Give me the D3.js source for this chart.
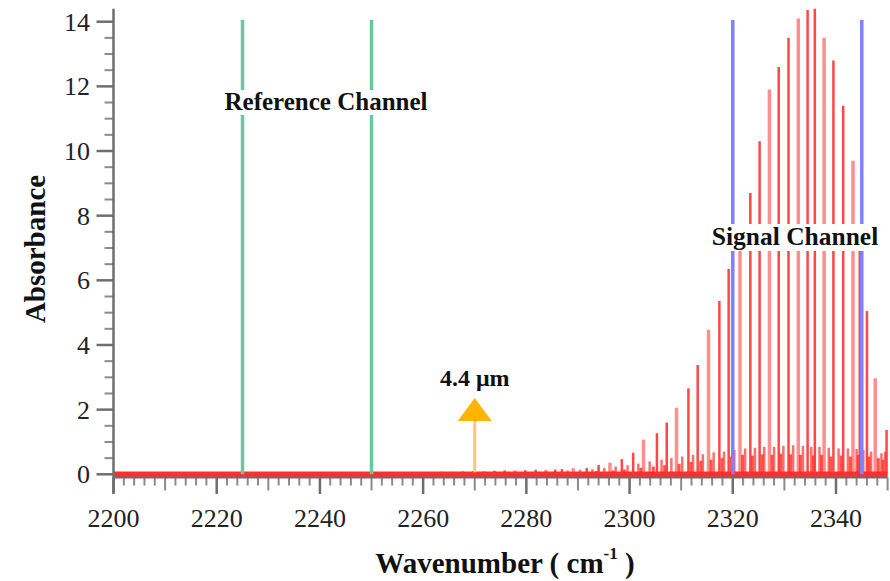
<!DOCTYPE html>
<html>
<head>
<meta charset="utf-8">
<script src="https://cdn.jsdelivr.net/npm/d3@7"></script>
<style>
  html, body { margin: 0; padding: 0; background: #fff; }
  svg { display: block; }
  text { font-family: "Liberation Serif", "Times New Roman", serif; }
</style>
</head>
<body>
<svg id="chart" width="890" height="581"></svg>
<script>
// ---------- data ----------
const xTickValues = [2200, 2220, 2240, 2260, 2280, 2300, 2320, 2340];
const yTickValues = [0, 2, 4, 6, 8, 10, 12, 14];

// strong absorption lines (wavenumber, absorbance)
const mainWn  = [2251.0, 2253.1, 2255.2, 2257.3, 2259.4, 2261.5, 2263.6, 2265.6, 2267.7, 2269.7,
                 2271.8, 2273.8, 2275.8, 2277.8, 2279.8, 2281.8, 2283.8, 2285.6,
                 2286.9, 2289.1, 2291.7, 2294.0, 2296.2, 2298.5, 2300.7, 2302.7, 2305.3, 2307.2,
                 2309.1, 2311.4, 2313.2, 2315.3, 2317.4, 2319.2, 2321.4, 2323.4, 2325.2, 2327.1,
                 2328.9, 2330.8, 2332.7, 2334.5, 2335.9, 2337.7, 2339.5, 2341.4, 2343.3, 2344.6,
                 2346.0, 2347.6, 2349.8];
const mainAbs = [0.04, 0.05, 0.05, 0.06, 0.06, 0.07, 0.08, 0.08, 0.09, 0.10,
                 0.10, 0.11, 0.12, 0.12, 0.13, 0.14, 0.14, 0.15,
                 0.16, 0.19, 0.19, 0.29, 0.36, 0.47, 0.67, 1.07, 1.27, 1.60,
                 2.06, 2.66, 3.38, 4.47, 5.36, 6.35, 7.30, 8.70, 10.3, 11.9,
                 12.6, 13.5, 14.1, 14.36, 14.4, 13.5, 12.8, 11.4, 9.7, 7.1,
                 5.05, 2.97, 1.37];

// weak (hot band) lines
const weakWn  = [2288.0, 2290.4, 2292.8, 2295.1, 2297.3, 2299.6, 2301.7, 2303.9, 2306.2, 2308.1,
                 2310.2, 2312.3, 2314.2, 2316.3, 2318.3, 2320.3, 2322.4, 2324.3, 2326.1, 2328.0,
                 2329.8, 2331.7, 2333.6, 2335.2, 2336.8, 2338.6, 2340.5, 2342.3, 2344.0, 2345.3,
                 2346.8, 2348.8, 2349.5];
const weakAbs = [0.12, 0.14, 0.16, 0.20, 0.24, 0.28, 0.33, 0.40, 0.45, 0.50,
                 0.55, 0.60, 0.62, 0.68, 0.70, 0.75, 0.80, 0.82, 0.85, 0.85,
                 0.88, 0.90, 0.88, 0.85, 0.85, 0.82, 0.80, 0.80, 0.78, 0.75,
                 0.70, 0.65, 0.70];

// weaker lines filling the base of the band
const weak2Wn  = [2293.6, 2296.8, 2299.0, 2302.2, 2304.6, 2306.8, 2309.6, 2311.9, 2313.8, 2315.8,
                  2317.9, 2319.7, 2321.9, 2323.8, 2325.7, 2327.6, 2329.3, 2331.2, 2333.1, 2335.6,
                  2337.2, 2339.0, 2341.0, 2342.8, 2344.3, 2346.4, 2348.2, 2349.1];
const weak2Abs = [0.10, 0.12, 0.15, 0.20, 0.24, 0.28, 0.32, 0.38, 0.42, 0.45,
                  0.50, 0.55, 0.60, 0.58, 0.62, 0.60, 0.64, 0.62, 0.60, 0.58,
                  0.60, 0.55, 0.58, 0.55, 0.60, 0.55, 0.50, 0.45];

const refChannel = [2225, 2250];
const sigChannel = [2320, 2345];
const markerWn = 2270;
const markerLabel = "4.4 μm";

// ---------- scales ----------
const FONT = "Liberation Serif, Times New Roman, serif";
const svg = d3.select("#chart");
const x = d3.scaleLinear().domain([2200, 2350]).range([113.5, 887.6]);
const y = d3.scaleLinear().domain([0, 14]).range([474.3, 21.7]);
const yTop = y(14.4);
const axisColor = "#6e6e6e";
const axisY = 477.5;

// ---------- spectrum ----------
const spec = svg.append("g");
spec.append("line")
  .attr("x1", x(2200)).attr("x2", x(2350))
  .attr("y1", y(0)).attr("y2", y(0))
  .attr("stroke", "#ff2f2f").attr("stroke-width", 5.5);

spec.selectAll(".weak2").data(weak2Wn.map((w, i) => [w, weak2Abs[i]]))
  .join("line")
  .attr("x1", d => x(d[0])).attr("x2", d => x(d[0]))
  .attr("y1", y(0)).attr("y2", d => y(d[1]))
  .attr("stroke", "#ff2a1a").attr("stroke-opacity", 0.8).attr("stroke-width", 3);

spec.selectAll(".weak").data(weakWn.map((w, i) => [w, weakAbs[i]]))
  .join("line")
  .attr("x1", d => x(d[0])).attr("x2", d => x(d[0]))
  .attr("y1", y(0)).attr("y2", d => y(d[1]))
  .attr("stroke", "#ff3030").attr("stroke-opacity", 0.7).attr("stroke-width", 2.5);

spec.selectAll(".main").data(mainWn.map((w, i) => [w, mainAbs[i]]))
  .join("line")
  .attr("x1", d => x(d[0])).attr("x2", d => x(d[0]))
  .attr("y1", y(0)).attr("y2", d => y(d[1]))
  .attr("stroke", "#ff3333")
  .attr("stroke-opacity", (d, i) => (i % 3 === 1 ? 0.55 : 0.9))
  .attr("stroke-width", (d, i) => (i % 3 === 1 ? 3.5 : 2.5));

// ---------- channel lines ----------
function channel(vals, color, label, labelY, cx, size) {
  const g = svg.append("g");
  g.selectAll("line").data(vals).join("line")
    .attr("x1", d => x(d)).attr("x2", d => x(d))
    .attr("y1", y(0)).attr("y2", y(14.05))
    .attr("stroke", color).attr("stroke-width", 3.5);
  const t = g.append("text")
    .attr("x", cx).attr("y", labelY)
    .attr("text-anchor", "middle")
    .attr("font-family", FONT)
    .attr("font-weight", "bold").attr("font-size", size)
    .attr("fill", "#111")
    .text(label);
  const bb = t.node().getBBox();
  g.insert("rect", "text")
    .attr("x", bb.x - 3).attr("y", bb.y + 2)
    .attr("width", bb.width + 6).attr("height", bb.height - 2)
    .attr("fill", "#fff");
}
channel(refChannel, "#68c89c", "Reference Channel", 110, 326, 25);
channel(sigChannel, "#8080ff", "Signal Channel", 245, 795, 25.5);

// ---------- 4.4 µm marker ----------
const mx = x(markerWn);
svg.append("line")
  .attr("x1", mx).attr("x2", mx)
  .attr("y1", y(0) - 2).attr("y2", 420)
  .attr("stroke", "#ffc86a").attr("stroke-width", 3);
svg.append("path")
  .attr("d", `M${mx},398 L${mx + 17},421 L${mx - 17},421 Z`)
  .attr("fill", "#ffb400");
svg.append("text")
  .attr("x", mx).attr("y", 386)
  .attr("text-anchor", "middle")
  .attr("font-family", FONT)
  .attr("font-weight", "bold").attr("font-size", 24)
  .attr("fill", "#111")
  .text(markerLabel);

// ---------- axes ----------
const yAxisG = svg.append("g");
yAxisG.append("line")
  .attr("x1", x(2200)).attr("x2", x(2200))
  .attr("y1", yTop).attr("y2", 493)
  .attr("stroke", axisColor).attr("stroke-width", 2.5);
const yMinor = d3.range(0, 14.01, 0.5).filter(v => v % 2 !== 0);
yAxisG.selectAll(".ymin").data(yMinor).join("line")
  .attr("x1", x(2200) - 9).attr("x2", x(2200))
  .attr("y1", d => y(d)).attr("y2", d => y(d))
  .attr("stroke", axisColor).attr("stroke-opacity", 0.8).attr("stroke-width", 2);
yAxisG.selectAll(".ymaj").data(yTickValues).join("line")
  .attr("x1", x(2200) - 17).attr("x2", x(2200))
  .attr("y1", d => y(d)).attr("y2", d => y(d))
  .attr("stroke", axisColor).attr("stroke-width", 2.5);
yAxisG.selectAll(".ylab").data(yTickValues).join("text")
  .attr("x", 90).attr("y", d => y(d))
  .attr("dy", "0.35em")
  .attr("text-anchor", "end")
  .attr("font-family", FONT)
  .attr("font-size", 26)
  .attr("fill", "#222")
  .text(d => d);

const xAxisG = svg.append("g");
xAxisG.append("line")
  .attr("x1", x(2200)).attr("x2", x(2350))
  .attr("y1", axisY).attr("y2", axisY)
  .attr("stroke", axisColor).attr("stroke-width", 2);
const xMinor = d3.range(2202, 2351, 2).filter(v => v % 20 !== 0);
xAxisG.selectAll(".xmin").data(xMinor).join("line")
  .attr("x1", d => x(d)).attr("x2", d => x(d))
  .attr("y1", axisY).attr("y2", d => axisY + (d % 10 === 0 ? 13 : 8))
  .attr("stroke", axisColor).attr("stroke-opacity", 0.8).attr("stroke-width", 2);
xAxisG.selectAll(".xmaj").data(xTickValues).join("line")
  .attr("x1", d => x(d)).attr("x2", d => x(d))
  .attr("y1", axisY).attr("y2", 494)
  .attr("stroke", axisColor).attr("stroke-width", 2.5);
xAxisG.selectAll(".xlab").data(xTickValues).join("text")
  .attr("x", d => x(d)).attr("y", 527)
  .attr("text-anchor", "middle")
  .attr("font-family", FONT)
  .attr("font-size", 26)
  .attr("fill", "#222")
  .text(d => d);

// ---------- titles ----------
svg.append("text")
  .attr("transform", "translate(45,249) rotate(-90)")
  .attr("text-anchor", "middle")
  .attr("font-family", FONT)
  .attr("font-weight", "bold").attr("font-size", 29)
  .attr("fill", "#111")
  .text("Absorbance");

const xt = svg.append("text")
  .attr("x", 505).attr("y", 573)
  .attr("text-anchor", "middle")
  .attr("font-family", FONT)
  .attr("font-weight", "bold").attr("font-size", 29)
  .attr("fill", "#111");
xt.append("tspan").text("Wavenumber ( cm");
xt.append("tspan").attr("font-size", 17).attr("dy", -14).text("-1");
xt.append("tspan").attr("dy", 14).text(" )");
</script>
</body>
</html>
